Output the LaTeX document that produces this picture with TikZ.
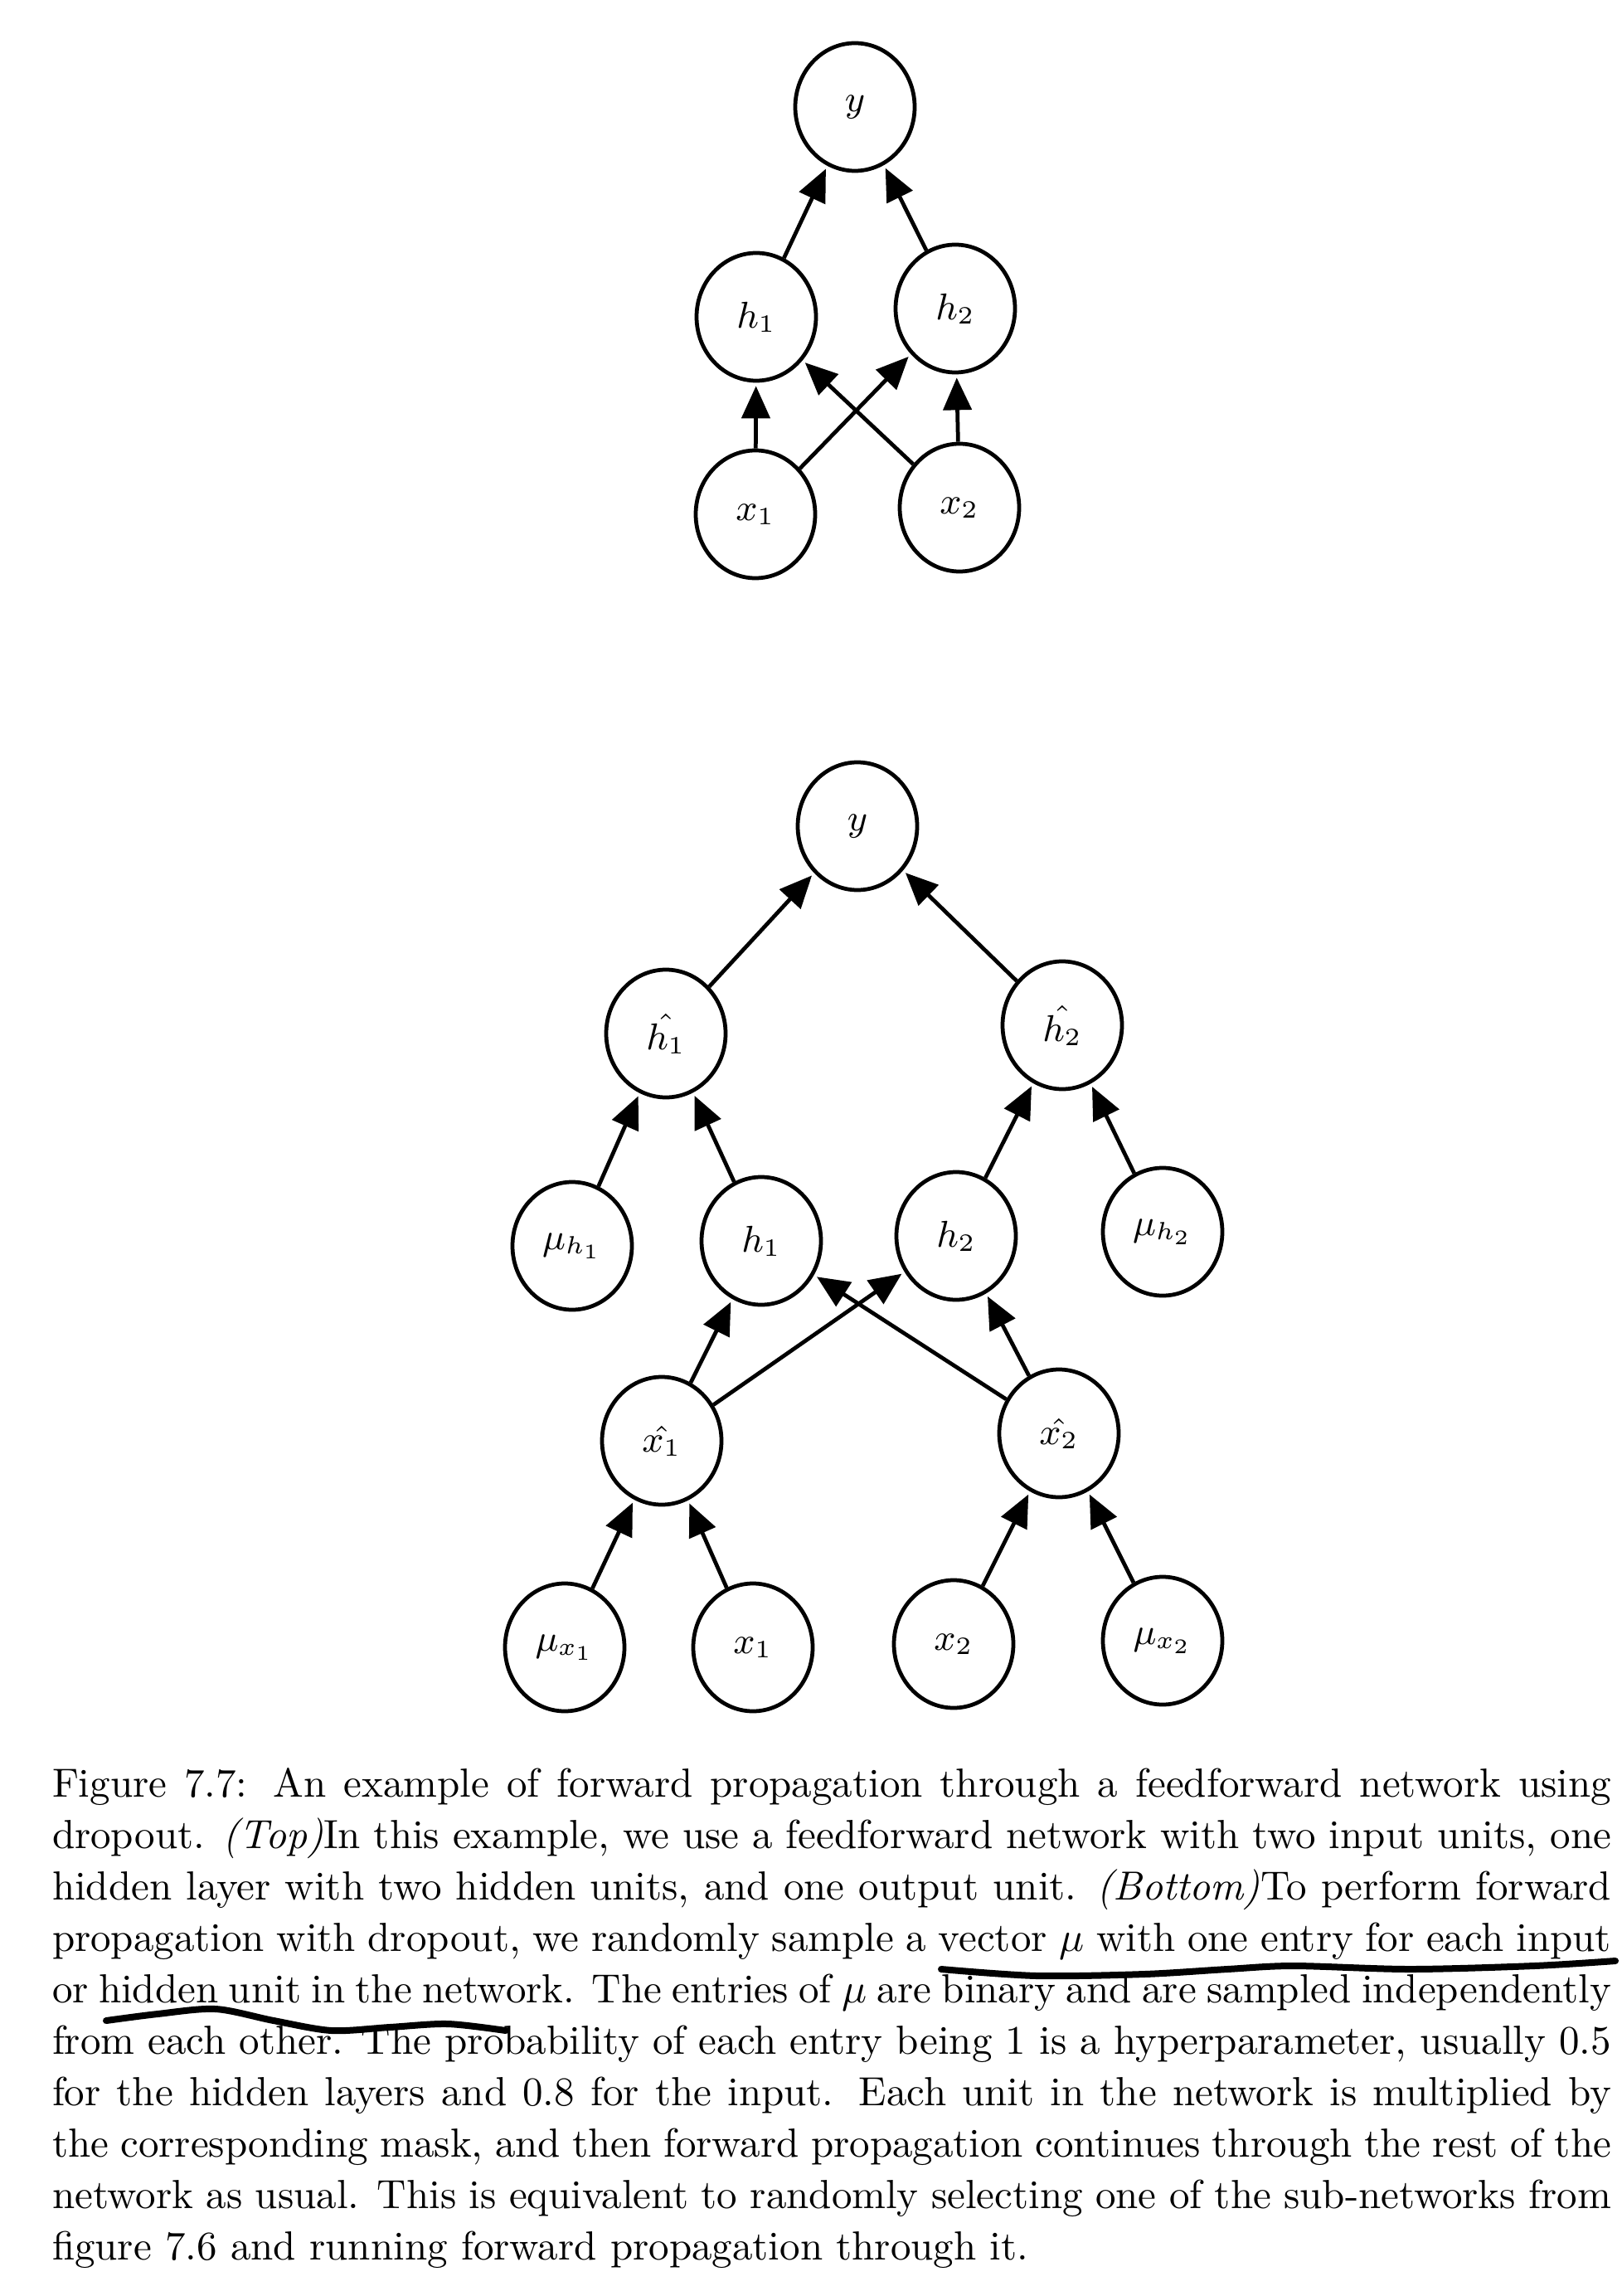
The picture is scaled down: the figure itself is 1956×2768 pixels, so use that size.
\documentclass[tikz,border=0pt]{standalone}
\usetikzlibrary{arrows.meta,shapes.geometric}
\begin{document}
\begin{tikzpicture}[x=0.2pt,y=-0.2pt,
  unit/.style={draw=black,line width=0.95pt,ellipse,minimum width=28.8pt,minimum height=30.8pt,inner sep=0pt,font=\small},
  conn/.style={line width=0.95pt,-{Triangle[length=7.8pt,width=6.8pt]},shorten >=0.8pt},
  capline/.style={anchor=base west,inner sep=0pt,font=\fontsize{9.8}{12}\selectfont},
  pen/.style={line width=1.6pt,line cap=round}]
\useasboundingbox[fill=white] (0,0) rectangle (1956,2768);
% ---- top network ----
\node[unit] (ty) at (1031,129) {$y$};
\node[unit] (th1) at (912,382) {$h_1$};
\node[unit] (th2) at (1152,372) {$h_2$};
\node[unit] (tx1) at (911,620) {$x_1$};
\node[unit] (tx2) at (1157,612) {$x_2$};
\draw[conn] (th1) -- (ty);
\draw[conn] (th2) -- (ty);
\draw[conn] (tx1) -- (th1);
\draw[conn] (tx1) -- (th2);
\draw[conn] (tx2) -- (th1);
\draw[conn] (tx2) -- (th2);
% ---- bottom network ----
\node[unit] (by) at (1034,996) {$y$};
\node[unit] (bhh1) at (803,1246) {$\hat{h_1}$};
\node[unit] (bhh2) at (1281,1236) {$\hat{h_2}$};
\node[unit] (muh1) at (690,1502) {$\mu_{h_1}$};
\node[unit] (bh1) at (918,1496) {$h_1$};
\node[unit] (bh2) at (1153,1490) {$h_2$};
\node[unit] (muh2) at (1402,1485) {$\mu_{h_2}$};
\node[unit] (bxh1) at (798,1737) {$\hat{x_1}$};
\node[unit] (bxh2) at (1277,1728) {$\hat{x_2}$};
\node[unit] (mux1) at (681,1986) {$\mu_{x_1}$};
\node[unit] (bx1) at (908,1986) {$x_1$};
\node[unit] (bx2) at (1150,1982) {$x_2$};
\node[unit] (mux2) at (1402,1978) {$\mu_{x_2}$};
\draw[conn] (bhh1) -- (by);
\draw[conn] (bhh2) -- (by);
\draw[conn] (muh1) -- (bhh1);
\draw[conn] (bh1) -- (bhh1);
\draw[conn] (bh2) -- (bhh2);
\draw[conn] (muh2) -- (bhh2);
\draw[conn] (bxh1) -- (bh1);
\draw[conn] (bxh1) -- (bh2);
\draw[conn] (bxh2) -- (bh1);
\draw[conn] (bxh2) -- (bh2);
\draw[conn] (mux1) -- (bxh1);
\draw[conn] (bx1) -- (bxh1);
\draw[conn] (bx2) -- (bxh2);
\draw[conn] (mux2) -- (bxh2);
% ---- caption ----
\node[capline] (c1) at (62,2166) {\makebox[376pt][s]{Figure 7.7: An example of forward propagation through a feedforward network using}};
\node[capline] (c2) at (62,2228) {\makebox[376pt][s]{dropout. \textit{(Top)}In this example, we use a feedforward network with two input units, one}};
\node[capline] (c3) at (62,2290) {\makebox[376pt][s]{hidden layer with two hidden units, and one output unit. \textit{(Bottom)}To perform forward}};
\node[capline] (c4) at (62,2352) {\makebox[376pt][s]{propagation with dropout, we randomly sample a vector $\mu$ with one entry for each input}};
\node[capline] (c5) at (62,2414) {\makebox[376pt][s]{or hidden unit in the network. The entries of $\mu$ are binary and are sampled independently}};
\node[capline] (c6) at (62,2476) {\makebox[376pt][s]{from each other. The probability of each entry being 1 is a hyperparameter, usually 0.5}};
\node[capline] (c7) at (62,2538) {\makebox[376pt][s]{for the hidden layers and 0.8 for the input. Each unit in the network is multiplied by}};
\node[capline] (c8) at (62,2600) {\makebox[376pt][s]{the corresponding mask, and then forward propagation continues through the rest of the}};
\node[capline] (c9) at (62,2662) {\makebox[376pt][s]{network as usual. This is equivalent to randomly selecting one of the sub-networks from}};
\node[capline] (c10) at (62,2724) {figure 7.6 and running forward propagation through it.};
% ---- pen underlines ----
\draw[pen] plot[smooth] coordinates {(1135,2374) (1250,2382) (1380,2380) (1480,2374) (1560,2370) (1700,2374) (1850,2370) (1948,2364)};
\draw[pen] plot[smooth] coordinates {(128,2436) (190,2428) (260,2422) (330,2436) (400,2448) (470,2444) (540,2440) (610,2448)};
\end{tikzpicture}
\end{document}
